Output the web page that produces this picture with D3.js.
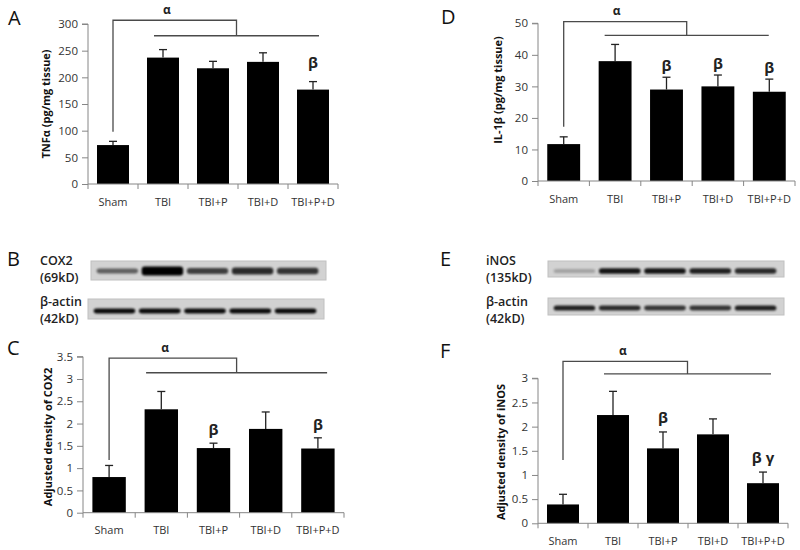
<!DOCTYPE html>
<html><head><meta charset="utf-8">
<script src="https://cdn.jsdelivr.net/npm/d3@7/dist/d3.min.js"></script>
<style>body{margin:0;background:#fff} text{font-family:"Open Sans",sans-serif}</style>
</head><body><svg id="c" width="800" height="550"></svg>
<script>
// ---------- data ----------
const categories = ["Sham","TBI","TBI+P","TBI+D","TBI+P+D"];
const tnfMean  = [73, 237, 217, 229, 177];
const tnfErr   = [7, 15, 13, 17, 15];
const tnfSig   = ["", "", "", "", "β"];
const tnfTicks = [0, 50, 100, 150, 200, 250, 300];

const il1bMean  = [11.7, 38.0, 29.0, 30.0, 28.3];
const il1bErr   = [2.3, 5.3, 3.9, 3.6, 4.0];
const il1bSig   = ["", "", "β", "β", "β"];
const il1bTicks = [0, 10, 20, 30, 40, 50];

const cox2Mean  = [0.80, 2.32, 1.45, 1.88, 1.44];
const cox2Err   = [0.26, 0.40, 0.11, 0.38, 0.24];
const cox2Sig   = ["", "", "β", "", "β"];
const cox2Ticks = [0, 0.5, 1, 1.5, 2, 2.5, 3, 3.5];

const inosMean  = [0.39, 2.24, 1.55, 1.84, 0.83];
const inosErr   = [0.21, 0.49, 0.34, 0.32, 0.23];
const inosSig   = ["", "", "β", "", "β γ"];
const inosTicks = [0, 0.5, 1, 1.5, 2, 2.5, 3];

// western blot band densities (relative)
const cox2Band      = [0.55, 1.0, 0.7, 0.8, 0.75];
const actinBandB    = [0.95, 0.95, 0.95, 0.95, 0.95];
const inosBand      = [0.22, 0.9, 0.9, 0.85, 0.8];
const actinBandE    = [0.85, 0.8, 0.75, 0.75, 0.85];

// ---------- drawing ----------
const svg = d3.select("#c");
const defs = svg.append("defs");
defs.append("filter").attr("id","blur").attr("x","-30%").attr("y","-150%").attr("width","160%").attr("height","400%")
  .append("feGaussianBlur").attr("stdDeviation",1.2);
defs.append("filter").attr("id","blurBig").attr("x","-30%").attr("y","-150%").attr("width","160%").attr("height","400%")
  .append("feGaussianBlur").attr("stdDeviation",2.5);

const AX = "#868686", TXT = "#333", BR = "#4a4a4a";

function barPanel(p){
  const g = svg.append("g");
  const x = d3.scaleBand().domain(categories).range([p.x0, p.x1]).paddingInner(0.36).paddingOuter(0.18);
  const y = d3.scaleLinear().domain([0, p.max]).range([p.y0, p.y1]);
  const bw = x.bandwidth(), step = x.step();
  const cx = i => x(categories[i]) + bw/2;

  // bars
  g.selectAll("rect.bar").data(p.mean).join("rect")
    .attr("x",(d,i)=>x(categories[i])).attr("y",d=>y(d))
    .attr("width",bw).attr("height",d=>y(0)-y(d)).attr("fill","#000");
  // error bars (upper)
  g.selectAll("line.eb").data(p.mean).join("line")
    .attr("x1",(d,i)=>cx(i)).attr("x2",(d,i)=>cx(i))
    .attr("y1",d=>y(d)).attr("y2",(d,i)=>y(d+p.err[i]))
    .attr("stroke","#222").attr("stroke-width",1.3);
  g.selectAll("line.cap").data(p.mean).join("line")
    .attr("x1",(d,i)=>cx(i)-4).attr("x2",(d,i)=>cx(i)+4)
    .attr("y1",(d,i)=>y(d+p.err[i])).attr("y2",(d,i)=>y(d+p.err[i]))
    .attr("stroke","#222").attr("stroke-width",1.3);

  // y axis
  const ya = g.append("g").attr("transform",`translate(${p.x0},0)`)
    .call(d3.axisLeft(y).tickValues(p.ticks).tickSize(6).tickPadding(4).tickFormat(d=>String(d)));
  ya.select(".domain").attr("stroke",AX).attr("d",`M-6,${y(p.max)}H0V${y(0)}`);
  ya.selectAll(".tick line").attr("stroke",AX);
  ya.selectAll(".tick text").attr("fill",TXT).style("font-size","11.5px").style("font-family","'Open Sans',sans-serif");

  // x axis
  g.append("line").attr("x1",p.x0).attr("x2",p.x1).attr("y1",y(0)).attr("y2",y(0)).attr("stroke",AX);
  g.selectAll("line.xt").data(d3.range(categories.length+1)).join("line")
    .attr("x1",i=>p.x0+i*step).attr("x2",i=>p.x0+i*step)
    .attr("y1",y(0)).attr("y2",y(0)+5).attr("stroke",AX);
  g.selectAll("text.xl").data(categories).join("text")
    .attr("x",(d,i)=>cx(i)).attr("y",y(0)+17).attr("text-anchor","middle")
    .attr("dominant-baseline","central").attr("fill",TXT).style("font-size","11px").text(d=>d);

  // y title
  g.append("text").attr("transform",`translate(${p.titleX},${p.titleY}) rotate(-90)`)
    .attr("text-anchor","middle").attr("dominant-baseline","central")
    .style("font-size","11px").style("font-weight","bold").attr("fill","#111").text(p.title);

  // panel letter
  g.append("text").attr("x",p.letterX).attr("y",p.letterY).style("font-size","20px").attr("fill","#111").text(p.letter);

  // significance bracket
  const b = p.bracket;
  const lx0 = x(categories[1]) + b.off0, lx1 = x(categories[4]) + bw + b.off1;
  const jx = (lx0+lx1)/2;
  g.append("path").attr("fill","none").attr("stroke",BR).attr("stroke-width",1.3)
    .attr("d",`M${cx(0)},${y(b.start)}V${y(b.top)}H${jx}V${y(b.line)}`);
  g.append("line").attr("x1",lx0).attr("x2",lx1).attr("y1",y(b.line)).attr("y2",y(b.line))
    .attr("stroke",BR).attr("stroke-width",1.3);
  g.append("text").attr("x",cx(0)+b.alphaDx).attr("y",y(b.top)-11).attr("text-anchor","middle")
    .attr("dominant-baseline","central").style("font-size","12px").style("font-weight","bold")
    .attr("fill","#222").text("α");

  // significance labels
  g.selectAll("text.sig").data(p.sig).join("text")
    .attr("x",(d,i)=>cx(i)).attr("y",(d,i)=>y(p.mean[i]+p.err[i])-p.sigGap)
    .attr("text-anchor","middle").attr("dominant-baseline","central")
    .style("font-size","15px").style("font-weight","bold").attr("fill","#222").text(d=>d);
}

barPanel({letter:"A",letterX:8,letterY:25,x0:88,x1:338,y0:184,y1:24,max:300,
  mean:tnfMean,err:tnfErr,sig:tnfSig,ticks:tnfTicks,sigGap:20,
  title:"TNFα  (pg/mg tissue)",titleX:45,titleY:104,
  bracket:{start:98,top:307,line:278,off0:7,off1:-10,alphaDx:54}});
barPanel({letter:"D",letterX:441,letterY:24,x0:538,x1:795,y0:181,y1:23.3,max:50,
  mean:il1bMean,err:il1bErr,sig:il1bSig,ticks:il1bTicks,sigGap:12,
  title:"IL-1β  (pg/mg tissue)",titleX:497,titleY:90,
  bracket:{start:17.2,top:50.5,line:46.2,off0:6,off1:-17,alphaDx:53}});
barPanel({letter:"C",letterX:7,letterY:355,x0:83,x1:344,y0:512.7,y1:356.7,max:3.5,
  mean:cox2Mean,err:cox2Err,sig:cox2Sig,ticks:cox2Ticks,sigGap:14,
  title:"Adjusted density of COX2",titleX:47,titleY:437,
  bracket:{start:1.18,top:3.47,line:3.14,off0:1.5,off1:-7.5,alphaDx:56}});
barPanel({letter:"F",letterX:440,letterY:358,x0:538,x1:788,y0:523.3,y1:378.3,max:3,
  mean:inosMean,err:inosErr,sig:inosSig,ticks:inosTicks,sigGap:15,
  title:"Adjusted density of iNOS",titleX:500,titleY:452,
  bracket:{start:1.31,top:3.35,line:3.09,off0:7,off1:-8,alphaDx:60}});

// ---------- western blots ----------
function blot(b){
  const g = svg.append("g");
  g.append("text").attr("x",b.letterX).attr("y",b.letterY).style("font-size","20px").attr("fill","#111").text(b.letter);
  b.strips.forEach(s=>{
    g.append("rect").attr("x",s.x).attr("y",s.y).attr("width",s.w).attr("height",s.h).attr("fill","#d2d2d2");
    g.append("rect").attr("x",s.x).attr("y",s.y).attr("width",s.w).attr("height",s.h)
      .attr("fill","none").attr("stroke","#c0c0c0").attr("stroke-width",1);
    const lx = d3.scaleBand().domain(categories).range([s.x+2,s.x+s.w-4]).padding(0.08);
    g.selectAll(null).data(s.band).join("rect")
      .attr("x",(d,i)=>lx(categories[i])).attr("width",lx.bandwidth())
      .attr("y",d=>s.cy - (s.th + s.thk*d*d)/2).attr("height",d=>s.th + s.thk*d*d)
      .attr("rx",3).attr("fill","#050505").attr("opacity",d=>Math.min(1,d))
      .attr("filter",s.soft ? "url(#blurBig)" : "url(#blur)");
    s.labels.forEach((t,k)=>{
      g.append("text").attr("x",s.lx).attr("y",s.ly+k*17).style("font-size","12.5px")
        .style("font-weight","600").attr("fill","#222").text(t);
    });
  });
}
blot({letter:"B",letterX:7,letterY:266,strips:[
  {x:91,y:261,w:235,h:19,cy:271,band:cox2Band,th:3,thk:6,labels:["COX2","(69kD)"],lx:40,ly:265},
  {x:88,y:299,w:236,h:20,cy:311,band:actinBandB,th:4,thk:1,labels:["β-actin","(42kD)"],lx:40,ly:306}]});
blot({letter:"E",letterX:440,letterY:266,strips:[
  {x:548,y:261,w:236,h:16,cy:271,band:inosBand,th:4,thk:2,labels:["iNOS","(135kD)"],lx:486,ly:265},
  {x:548,y:298,w:236,h:17,cy:308,band:actinBandE,th:4,thk:1.5,labels:["β-actin","(42kD)"],lx:486,ly:306}]});
</script></body></html>
